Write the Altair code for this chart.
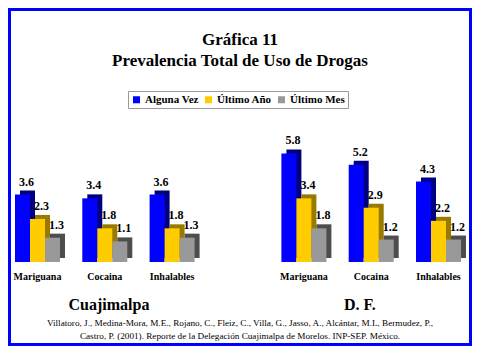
import altair as alt
import pandas as pd

# ---------------- data ----------------
DRUGS = ["Mariguana", "Cocaina", "Inhalables"]
SERIES = ["Alguna Vez", "Último Año", "Último Mes"]
REGIONS = ["Cuajimalpa", "D. F."]

CUAJ_ALGUNA = [3.6, 3.4, 3.6]
CUAJ_ANIO = [2.3, 1.8, 1.8]
CUAJ_MES = [1.3, 1.1, 1.3]

DF_ALGUNA = [5.8, 5.2, 4.3]
DF_ANIO = [3.4, 2.9, 2.2]
DF_MES = [1.8, 1.2, 1.2]

TITLE_LINES = ["Gráfica 11", "Prevalencia Total de Uso de Drogas"]
SOURCE_LINES = [
    "Villatoro, J., Medina-Mora, M.E., Rojano, C., Fleiz, C., Villa, G., Jasso, A., Alcántar, M.L, Bermudez, P.,",
    "Castro, P. (2001). Reporte de la Delegación Cuajimalpa de Morelos. INP-SEP. México.",
]

# ---------------- styles ----------------
FRONT = ["#0000FF", "#FFCC00", "#999999"]
SIDE = ["#000080", "#997A00", "#4D4D4D"]
SERIF = "Liberation Serif"

CANVAS_W = 464
CANVAS_H = 338
PANEL_W = 193.6
PANEL_H = 146
TOP = 108  # panel top inside the canvas


def table(series_lists):
    rows = []
    for s, vals in zip(SERIES, series_lists):
        for d, v in zip(DRUGS, vals):
            rows.append({"drug": d, "series": s, "value": v})
    return pd.DataFrame(rows)


LEGEND = alt.Legend(
    orient="none", legendX=120, legendY=83 - TOP, direction="horizontal", title=None,
    symbolType="square", symbolSize=49, symbolStrokeWidth=0,
    labelFont=SERIF, labelFontSize=11, labelFontWeight="bold", labelColor="black",
    columnPadding=4, labelOffset=3, padding=3,
    strokeColor="#9a9a9a", fillColor="white",
)

ONE = alt.Data(values=[{}])


def text_line(txt, y, size, weight):
    return alt.Chart(ONE).mark_text(
        font=SERIF, fontSize=size, fontWeight=weight, color="black",
        align="center", baseline="middle",
    ).encode(x=alt.value(CANVAS_W / 2), y=alt.value(y - TOP), text=alt.value(txt))


def panel(data, region, title_x, extras):
    base = alt.Chart(data).encode(
        x=alt.X(
            "drug:N", sort=DRUGS,
            scale=alt.Scale(paddingInner=0.3314, paddingOuter=0.104),
            axis=alt.Axis(
                title=region, titleX=title_x, titleY=42, titleBaseline="middle",
                labelAngle=0, domain=False, ticks=False, tickSize=0,
                labelPadding=14, labelBaseline="middle",
                labelFont=SERIF, labelFontSize=10, labelFontWeight="bold", labelColor="black",
                titleFont=SERIF, titleFontSize=16, titleFontWeight="bold", titleColor="black",
                grid=False,
            ),
        ),
        y=alt.Y("value:Q", scale=alt.Scale(domain=[0, 7.8], nice=False), axis=None),
    )
    # darker side/top faces (3-D look), drawn behind the front faces
    side = base.mark_bar(yOffset=-4).encode(
        xOffset=alt.XOffset("series:N", sort=SERIES,
                            scale=alt.Scale(domain=SERIES, range=[5, 50], paddingInner=0, paddingOuter=0)),
        fill=alt.Fill("series:N",
                      scale=alt.Scale(domain=SERIES[::-1], range=SIDE[::-1]), legend=None),
    )
    off = alt.XOffset("series:N", sort=SERIES,
                      scale=alt.Scale(domain=SERIES, paddingInner=0, paddingOuter=0))
    front = base.mark_bar().encode(
        xOffset=off,
        color=alt.Color("series:N", scale=alt.Scale(domain=SERIES, range=FRONT), legend=LEGEND),
    )
    labels = base.mark_text(
        dx=4, dy=-9, baseline="alphabetic", align="center",
        font=SERIF, fontSize=12, fontWeight="bold", color="black",
    ).encode(xOffset=off, text=alt.Text("value:Q", format=".1f"))
    bars = alt.layer(side, alt.layer(front, labels)).resolve_scale(xOffset="independent")
    return alt.layer(*extras, bars).properties(width=PANEL_W, height=PANEL_H)


frame = alt.Chart(ONE).mark_rect(fillOpacity=0, stroke="#0000FF", strokeWidth=3).encode(
    x=alt.value(1.5), x2=alt.value(CANVAS_W - 1.5),
    y=alt.value(1.5 - TOP), y2=alt.value(CANVAS_H - 1.5 - TOP),
)

extras_left = [
    frame,
    text_line(TITLE_LINES[0], 32, 17, "bold"),
    text_line(TITLE_LINES[1], 53, 17, "bold"),
    text_line(SOURCE_LINES[0], 315, 9.2, "normal"),
    text_line(SOURCE_LINES[1], 328, 9.2, "normal"),
]

left = panel(table([CUAJ_ALGUNA, CUAJ_ANIO, CUAJ_MES]), REGIONS[0], 100.5, extras_left)
right = panel(table([DF_ALGUNA, DF_ANIO, DF_MES]), REGIONS[1], 85, [])

chart = alt.hconcat(left, right, spacing=72.4, bounds="flush").properties(
    padding=0, background="white"
).configure_view(strokeWidth=0)

chart.save("out.html", embed_options={"renderer": "svg", "actions": False})
